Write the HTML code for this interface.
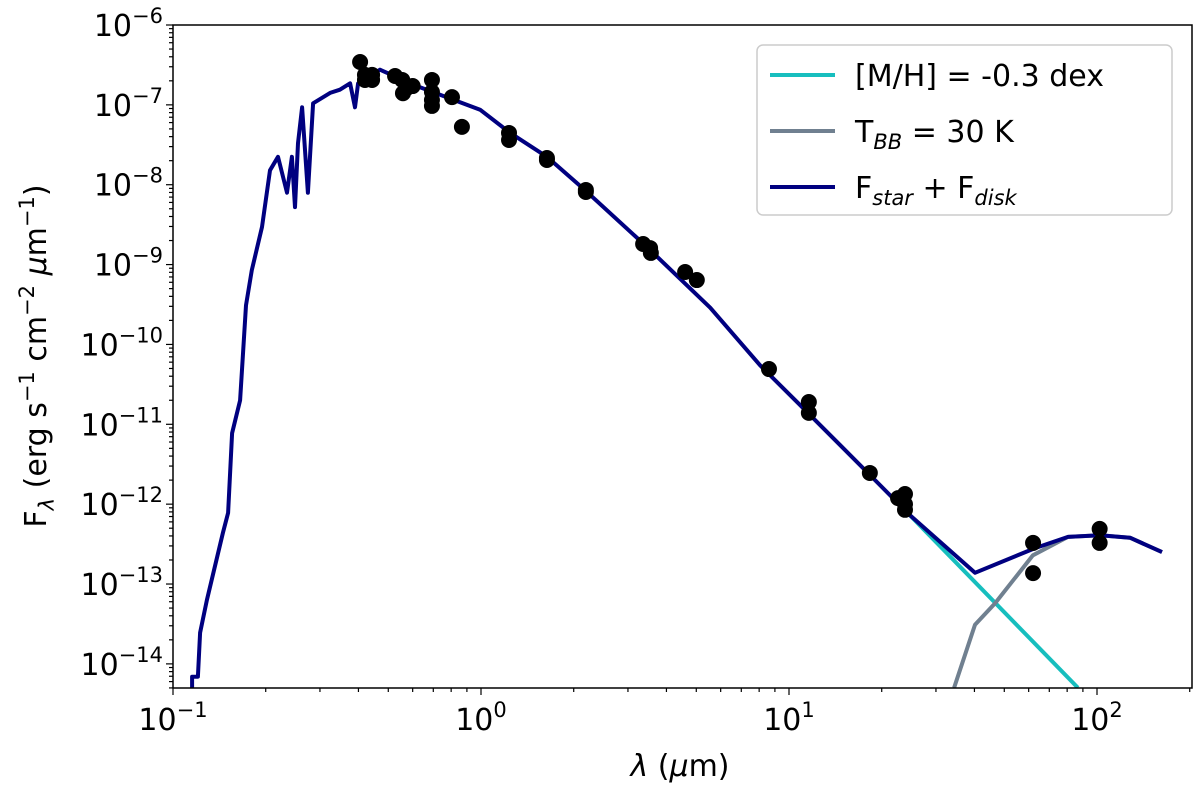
<!DOCTYPE html>
<html><head><meta charset="utf-8"><style>
body{margin:0;background:#fff;}
svg{display:block;font-family:"DejaVu Sans","Liberation Sans",sans-serif;}
</style></head><body>
<svg id="chart" width="1200" height="794" viewBox="0 0 1200 794" xmlns="http://www.w3.org/2000/svg">
<defs><clipPath id="clip"><rect x="173" y="25" width="1019" height="663"/></clipPath></defs>
<g id="marks" clip-path="url(#clip)"></g>
<g id="axes"></g>
</svg>
<script>
// data (log10 units: wavelength in micron, flux in erg s^-1 cm^-2 um^-1)
const obsLam = [0.405,0.42,0.443,0.42,0.443,0.526,0.555,0.575,0.558,0.60,0.693,0.693,0.693,0.693,0.805,0.867,1.233,1.233,1.637,1.637,2.19,2.19,3.36,3.54,3.56,4.6,5.02,8.61,11.6,11.6,18.3,22.6,23.8,23.8,23.8,62,62,102,102];
const obsFlux = [3.44e-7,2.37e-7,2.37e-7,2.05e-7,2.05e-7,2.30e-7,2.05e-7,1.63e-7,1.40e-7,1.72e-7,2.05e-7,1.45e-7,1.15e-7,9.7e-8,1.25e-7,5.3e-8,4.45e-8,3.63e-8,2.16e-8,2.04e-8,8.6e-9,8.1e-9,1.81e-9,1.61e-9,1.40e-9,8.07e-10,6.4e-10,4.92e-11,1.9e-11,1.39e-11,2.46e-12,1.19e-12,1.34e-12,1.0e-12,8.5e-13,3.27e-13,1.37e-13,4.9e-13,3.27e-13];
const totLogLam = [-0.938,-0.938,-0.919,-0.912,-0.890,-0.838,-0.821,-0.808,-0.782,-0.763,-0.744,-0.711,-0.685,-0.659,-0.630,-0.614,-0.604,-0.594,-0.581,-0.562,-0.545,-0.490,-0.458,-0.425,-0.409,-0.399,-0.328,-0.198,-0.003,0.094,0.214,0.338,0.539,0.744,0.906,1.036,1.166,1.295,1.393,1.604,1.799,1.906,2.010,2.107,2.211];
const totLogFlux = [-14.30,-14.16,-14.16,-13.61,-13.20,-12.36,-12.11,-11.11,-10.70,-9.51,-9.07,-8.53,-7.82,-7.65,-8.10,-7.65,-8.28,-7.48,-7.03,-8.10,-6.98,-6.85,-6.81,-6.73,-7.03,-6.73,-6.56,-6.78,-7.06,-7.35,-7.65,-8.07,-8.78,-9.54,-10.26,-10.76,-11.26,-11.76,-12.14,-12.86,-12.55,-12.41,-12.39,-12.42,-12.60];
const starLogLam = [1.393,1.938];
const starLogFlux = [-12.14,-14.30];
const bbLogLam = [1.536,1.604,1.669,1.792,1.906,2.010,2.107,2.211];
const bbLogFlux = [-14.30,-13.51,-13.24,-12.64,-12.41,-12.39,-12.42,-12.60];
const xTicks = [-1,0,1,2];
const yTicks = [-14,-13,-12,-11,-10,-9,-8,-7,-6];

const L=173,R=1192,T=25,B=688;
const X0=-1, XD=308, Y0=-6, YD=79.86;
const sx = lg => L + (lg - X0)*XD;
const sy = lg => T + (Y0 - lg)*YD;
const NS='http://www.w3.org/2000/svg';
const marks=document.getElementById('marks'), axes=document.getElementById('axes');
function mk(tag,attrs,parent){const e=document.createElementNS(NS,tag);for(const k in attrs)e.setAttribute(k,attrs[k]);parent.appendChild(e);return e;}

function line(lx,ly,color,name){
  const d=lx.map((v,i)=>(i?'L':'M')+sx(v).toFixed(1)+','+sy(ly[i]).toFixed(1)).join('');
  const p=mk('path',{d:d,fill:'none',stroke:color,'stroke-width':4,'stroke-linejoin':'round'},marks);
  
  
}
line(starLogLam,starLogFlux,'#17bebe','star-model-line');
line(bbLogLam,bbLogFlux,'#708090','blackbody-line');
line(totLogLam,totLogFlux,'#000080','total-flux-line');
obsLam.forEach((l,i)=>{
  const c=mk('circle',{cx:sx(Math.log10(l)),cy:sy(Math.log10(obsFlux[i])),r:8,fill:'#000'},marks);
  
  
});

const fr=mk('rect',{x:L,y:T,width:R-L,height:B-T,fill:'none',stroke:'#000','stroke-width':1.5},axes);


for(let d=-1; d<=2; d++){
  for(let m=1;m<10;m++){
    const lg=d+Math.log10(m), x=sx(lg);
    if(x<L-0.5||x>R+0.5) continue;
    mk('line',{x1:x,x2:x,y1:B,y2:B+(m==1?7:4),stroke:'#000','stroke-width':1.2},axes);
  }
}
xTicks.forEach(t=>{
  const tx=mk('text',{x:sx(t),y:B+42,'font-size':30,'text-anchor':'middle'},axes);
  
  
  tx.innerHTML='10<tspan dy="-13" font-size="21">'+(t<0?'\u2212'+(-t):t)+'</tspan>';
});
for(let d=-15; d<=-6; d++){
  for(let m=1;m<10;m++){
    const lg=d+Math.log10(m), y=sy(lg);
    if(y<T-0.5||y>B+0.5) continue;
    mk('line',{x1:L,x2:L-(m==1?7:4),y1:y,y2:y,stroke:'#000','stroke-width':1.2},axes);
  }
}
yTicks.forEach(t=>{
  const tx=mk('text',{x:L-10,y:sy(t)+11,'font-size':30,'text-anchor':'end'},axes);
  
  
  tx.innerHTML='10<tspan dy="-13" font-size="21">\u2212'+(-t)+'</tspan>';
});
</script>
<svg style="position:absolute;left:0;top:0" width="1200" height="794" font-family="DejaVu Sans, Liberation Sans, sans-serif">
<text x="680" y="776" font-size="30" text-anchor="middle"><tspan font-style="italic">λ</tspan> (<tspan font-style="italic">μ</tspan>m)</text>
<text transform="translate(46,356) rotate(-90)" font-size="30" text-anchor="middle">F<tspan font-size="21" dy="8" font-style="italic">λ</tspan><tspan dy="-8"> (erg s</tspan><tspan font-size="21" dy="-12">−1</tspan><tspan dy="12"> cm</tspan><tspan font-size="21" dy="-12">−2</tspan><tspan dy="12"> </tspan><tspan font-style="italic">μ</tspan><tspan>m</tspan><tspan font-size="21" dy="-12">−1</tspan><tspan dy="12">)</tspan></text>
<g>
<rect x="757" y="45" width="415" height="170" rx="6" fill="#fff" fill-opacity="0.85" stroke="#ccc" stroke-width="1.5"/>
<line x1="770" x2="835" y1="75" y2="75" stroke="#17bebe" stroke-width="4"/>
<text x="855" y="86" font-size="30">[M/H] = -0.3 dex</text>
<line x1="770" x2="835" y1="131" y2="131" stroke="#708090" stroke-width="4"/>
<text x="855" y="142" font-size="30">T<tspan font-size="21" dy="7" font-style="italic">BB</tspan><tspan dy="-7"> = 30 K</tspan></text>
<line x1="770" x2="835" y1="187" y2="187" stroke="#000080" stroke-width="4"/>
<text x="855" y="198" font-size="30">F<tspan font-size="21" dy="7" font-style="italic">star</tspan><tspan dy="-7"> + F</tspan><tspan font-size="21" dy="7" font-style="italic">disk</tspan></text>
</g>
</svg>
</body></html>
